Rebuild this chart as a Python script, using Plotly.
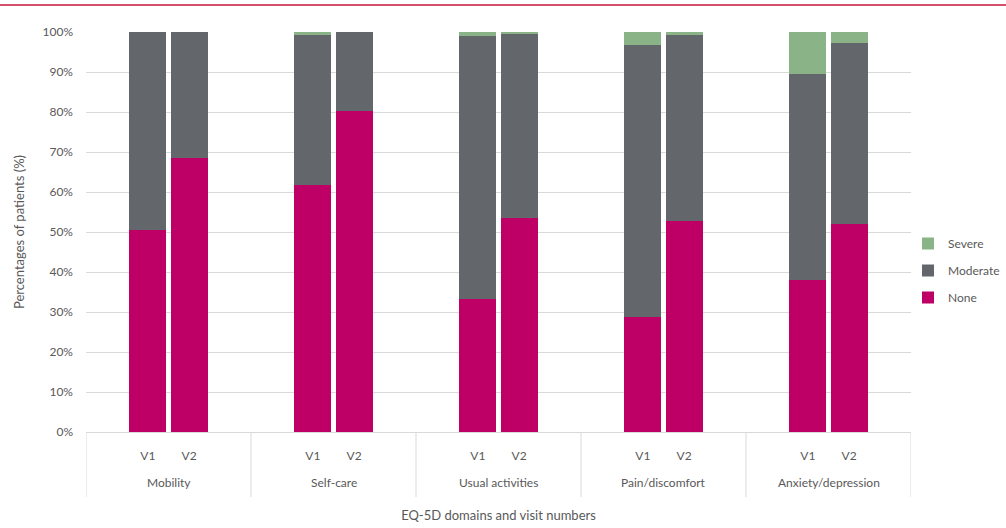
import plotly.graph_objects as go

domains = ["Mobility", "Self-care", "Usual activities", "Pain/discomfort", "Anxiety/depression"]
visits = ["V1", "V2"]

none_v1 = [50.6, 61.7, 33.2, 28.7, 37.9]
none_v2 = [68.4, 80.3, 53.4, 52.7, 51.9]
moderate_v1 = [49.4, 37.5, 65.8, 68.1, 51.7]
moderate_v2 = [31.6, 19.7, 46.1, 46.5, 45.3]
severe_v1 = [0.0, 0.8, 1.0, 3.2, 10.4]
severe_v2 = [0.0, 0.0, 0.5, 0.8, 2.8]

SLOTS = 4  # each domain occupies 4 category slots: blank, V1, V2, blank


def positions():
    xs = []
    for i in range(len(domains)):
        for j in range(len(visits)):
            xs.append(i * SLOTS + 1 + j)
    return xs


def values(v1, v2):
    out = []
    for i in range(len(domains)):
        out.extend([v1[i] / 100.0, v2[i] / 100.0])
    return out


FONT = "Lato"
TXT = "#595959"
GRID = "#D9D9D9"

series = [
    ("None", none_v1, none_v2, "#BE0066", 3),
    ("Moderate", moderate_v1, moderate_v2, "#63666A", 2),
    ("Severe", severe_v1, severe_v2, "#8AB388", 1),
]

xs = positions()
fig = go.Figure()
for name, a, b, col, rank in series:
    fig.add_trace(go.Bar(x=xs, y=values(a, b), name=name, width=0.9,
                         marker=dict(color=col, line=dict(width=0)),
                         legendgroup=name, legendrank=rank))

W, H = 1006, 528
ml, mt, mb = 86, 32, 96
plot_w = W - ml
nslots = len(domains) * SLOTS

fig.update_layout(
    width=W, height=H,
    barmode="stack",
    paper_bgcolor="white", plot_bgcolor="white",
    margin=dict(l=ml, r=0, t=mt, b=mb, autoexpand=False),
    font=dict(family=FONT, size=12, color=TXT),
    legend=dict(x=(908 - ml) / plot_w, xanchor="left", y=0.5075, yanchor="top",
                traceorder="grouped", tracegroupgap=8,
                font=dict(family=FONT, size=12, color=TXT), bgcolor="rgba(0,0,0,0)"),
    showlegend=True,
    xaxis=dict(domain=[0, 825 / plot_w], range=[-0.5, nslots - 0.5],
               tickvals=xs, ticktext=visits * len(domains),
               showline=True, linecolor=GRID, linewidth=1, showgrid=False, zeroline=False,
               ticks="", ticklabelstandoff=13,
               tickfont=dict(family=FONT, size=12, color=TXT),
               title=dict(text="EQ-5D domains and visit numbers", standoff=48,
                          font=dict(family=FONT, size=13, color=TXT)),
               automargin=False),
    yaxis=dict(range=[0, 1], dtick=0.1, tickformat=".0%", showgrid=True, gridcolor=GRID,
               gridwidth=1, zeroline=False, showline=False, ticks="", ticklabelstandoff=12,
               tickfont=dict(family=FONT, size=12, color=TXT),
               title=dict(text="Percentages of patients (%)", standoff=14,
                          font=dict(family=FONT, size=13, color=TXT)),
               automargin=False),
)

# group labels and dividers of the two-level category axis
for i, d in enumerate(domains):
    fig.add_annotation(x=i * SLOTS + (SLOTS - 1) / 2, xref="x", y=(432 - 482) / 400, yref="paper",
                       yanchor="middle", text=d, showarrow=False,
                       font=dict(family=FONT, size=12, color=TXT))
for k in range(len(domains) + 1):
    xb = k * SLOTS - 0.5
    fig.add_shape(type="line", xref="x", yref="paper", x0=xb, x1=xb, y0=0, y1=(432 - 497) / 400,
                  line=dict(color=GRID, width=1))

fig.add_shape(type="line", xref="paper", yref="paper",
              x0=-ml / plot_w, x1=1, y0=1 + (mt - 5) / 400, y1=1 + (mt - 5) / 400,
              line=dict(color="#C4153A", width=1.5))

fig.write_html("out.html")
